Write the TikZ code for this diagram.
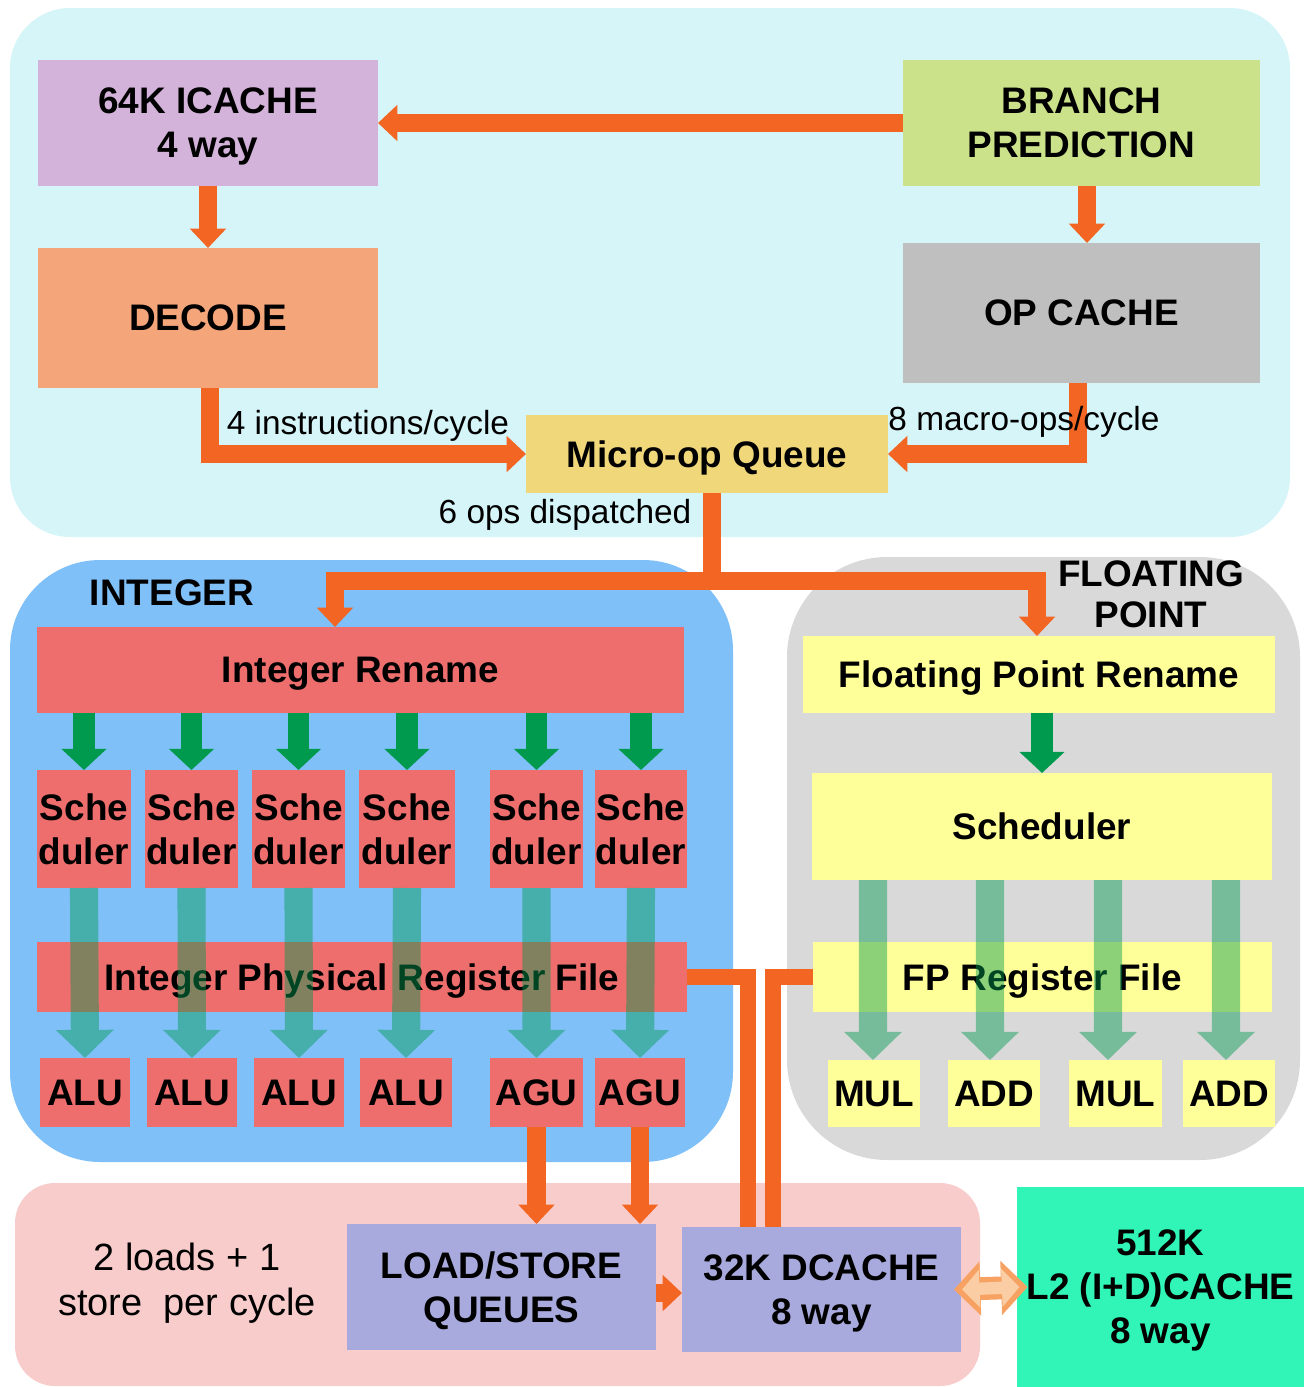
\documentclass[tikz,border=0pt]{standalone}
\usepackage{fontspec}
\setmainfont{Liberation Sans}
\usetikzlibrary{arrows.meta,calc}
\definecolor{cyanbg}{HTML}{D6F5F8}
\definecolor{bluebg}{HTML}{80C0F8}
\definecolor{graybg}{HTML}{D9D9D9}
\definecolor{pinkbg}{HTML}{F9CCCC}
\definecolor{mint}{HTML}{30F5B6}
\definecolor{lilac}{HTML}{D4B3DA}
\definecolor{bpgreen}{HTML}{CCE28A}
\definecolor{salmon}{HTML}{F5A57A}
\definecolor{opgray}{HTML}{BFBFBF}
\definecolor{mqyellow}{HTML}{EFD77A}
\definecolor{boxred}{HTML}{EE6E6E}
\definecolor{yel}{HTML}{FFFF99}
\definecolor{lav}{HTML}{A8AADD}
\definecolor{orng}{HTML}{F26522}
\definecolor{dgreen}{HTML}{009A4E}
\definecolor{dblout}{HTML}{F7A262}
\definecolor{dblin}{HTML}{FBCDA4}
\newcommand\mybox[7]{\node[#6, minimum width={(#4-#2)*0.01cm}, minimum height={(#5-#3)*0.01cm}] (#1) at ({(#2+#4)/2},{(#3+#5)/2}) {#7};}
\begin{document}
\begin{tikzpicture}[x=0.01cm,y=-0.01cm,
  box/.style={inner sep=0pt, outer sep=0pt, align=center, text depth=0pt, font=\bfseries\fontsize{10.5}{12.5}\selectfont},
  lbl/.style={inner sep=0pt, align=center, font=\fontsize{9.5}{12.8}\selectfont},
  oarrow/.style={draw=orng, line width=5.2pt, line join=miter, -{Triangle[width=10pt,length=5.5pt]}},
  oline/.style={draw=orng, line width=5.2pt, line join=miter},
  othin/.style={draw=orng, line width=4.4pt, line join=miter},
  garrow/.style={draw=dgreen, line width=6.2pt, -{Triangle[width=12.5pt,length=6pt]}},
  tarrow/.style={draw=dgreen, line width=8pt, -{Triangle[width=16pt,length=8pt]}},
]
\useasboundingbox (0,0) rectangle (1304,1387);
% regions
\fill[cyanbg, rounded corners=0.6cm] (10,8) rectangle (1290,537);
\fill[bluebg, rounded corners=0.9cm] (10,560) rectangle (733,1162);
\fill[graybg, rounded corners=1cm] (787,557) rectangle (1300,1160);
\fill[pinkbg, rounded corners=0.4cm] (15,1183) rectangle (980,1386);
% boxes
\mybox{ic}{38}{60}{378}{186}{box,fill=lilac}{64K ICACHE\\4 way}
\mybox{bp}{903}{60}{1260}{186}{box,fill=bpgreen}{BRANCH\\PREDICTION}
\mybox{dec}{38}{248}{378}{388}{box,fill=salmon}{DECODE}
\mybox{opc}{903}{243}{1260}{383}{box,fill=opgray}{OP CACHE}
\mybox{mq}{526}{415}{888}{493}{box,fill=mqyellow}{Micro-op Queue}
\mybox{irn}{37}{627}{684}{713}{box,fill=boxred}{Integer Rename}
\mybox{s1}{37}{770}{131}{888}{box,fill=boxred}{Sche\\duler}
\mybox{s2}{145}{770}{238}{888}{box,fill=boxred}{Sche\\duler}
\mybox{s3}{252}{770}{345}{888}{box,fill=boxred}{Sche\\duler}
\mybox{s4}{359}{770}{455}{888}{box,fill=boxred}{Sche\\duler}
\mybox{s5}{490}{770}{583}{888}{box,fill=boxred}{Sche\\duler}
\mybox{s6}{595}{770}{687}{888}{box,fill=boxred}{Sche\\duler}
\mybox{irf}{37}{942}{687}{1012}{box,fill=boxred}{Integer Physical Register File}
\mybox{a1}{40}{1058}{130}{1127}{box,fill=boxred}{ALU}
\mybox{a2}{147}{1058}{237}{1127}{box,fill=boxred}{ALU}
\mybox{a3}{254}{1058}{344}{1127}{box,fill=boxred}{ALU}
\mybox{a4}{360}{1058}{452}{1127}{box,fill=boxred}{ALU}
\mybox{g1}{490}{1058}{583}{1127}{box,fill=boxred}{AGU}
\mybox{g2}{595}{1058}{685}{1127}{box,fill=boxred}{AGU}
\mybox{frn}{803}{636}{1275}{713}{box,fill=yel}{Floating Point Rename}
\mybox{fsc}{812}{773}{1272}{880}{box,fill=yel}{Scheduler}
\mybox{frf}{813}{942}{1272}{1012}{box,fill=yel}{FP Register File}
\mybox{f1}{828}{1060}{920}{1127}{box,fill=yel}{MUL}
\mybox{f2}{948}{1060}{1040}{1127}{box,fill=yel}{ADD}
\mybox{f3}{1069}{1060}{1162}{1127}{box,fill=yel}{MUL}
\mybox{f4}{1183}{1060}{1275}{1127}{box,fill=yel}{ADD}
\mybox{lsq}{347}{1224}{656}{1350}{box,fill=lav}{LOAD/STORE\\QUEUES}
\mybox{dc}{682}{1227}{961}{1352}{box,fill=lav}{32K DCACHE\\8 way}
\mybox{l2}{1017}{1187}{1304}{1387}{box,fill=mint}{512K\\L2 (I+D)CACHE\\8 way}
% helper coordinates
\coordinate (xbp) at (1087,0);
\coordinate (xop) at (1078,0);
\coordinate (xde) at (210,0);
\coordinate (split) at (712,581);
\coordinate (xa) at (335,0);
\coordinate (xb) at (1037,0);
\coordinate (ja) at (748,0);
\coordinate (jb) at (773,0);
\coordinate (ylq) at (0,1293);
\coordinate (t1) at (873,0);
\coordinate (t2) at (990,0);
\coordinate (t3) at (1108,0);
\coordinate (t4) at (1226,0);
% orange connectors
\draw[oarrow] (bp.west) -- (ic.east);
\draw[oarrow] (ic.south) -- (dec.north);
\draw[oarrow] (bp.south -| xbp) -- (opc.north -| xbp);
\draw[oarrow] (dec.south -| xde) |- (mq.west);
\draw[oarrow] (opc.south -| xop) |- (mq.east);
\draw[oline] (mq.south -| split) -- (split);
\draw[oarrow] (split) -| (irn.north -| xa);
\draw[oarrow] (split) -| (frn.north -| xb);
\draw[oarrow] (g1.south) -- (g1.south |- lsq.north);
\draw[oarrow] (g2.south) -- (g2.south |- lsq.north);
\draw[oarrow] (lsq.east |- ylq) -- (dc.west |- ylq);
\draw[othin] (irf.east) -| (dc.north -| ja);
\draw[othin] (frf.west) -| (dc.north -| jb);
% double arrow DCACHE <-> L2
\draw[draw=dblout, line width=6.5pt, {Triangle[width=15pt,length=7.5pt]}-{Triangle[width=15pt,length=7.5pt]}] ([xshift=-2pt]dc.east) -- ([xshift=3pt]l2.west);
\draw[draw=dblin, line width=3.5pt, {Triangle[width=10.5pt,length=5pt]}-{Triangle[width=10.5pt,length=5pt]}] ([xshift=0.3pt]dc.east) -- ([xshift=0.7pt]l2.west);
% green arrows
\foreach \s in {s1,s2,s3,s4,s5,s6}{\draw[garrow] (\s.north |- irn.south) -- (\s.north);}
\draw[garrow] (frn.south -| fsc.north) -- (fsc.north);
% labels
\node[lbl] (lb1) at (368,426) {4 instructions/cycle};
\node[lbl] (lb2) at (1024,422) {8 macro-ops/cycle};
\node[lbl] (lb3) at (565,515) {6 ops dispatched};
\node[lbl, font=\fontsize{10.8}{12.8}\selectfont] (lb4) at (187,1283) {2 loads + 1\\store\ \ per cycle};
\node[box] (tint) at (172,593) {INTEGER};
\node[box, font=\bfseries\fontsize{10.5}{11.7}\selectfont] (tfp) at (1151,594) {FLOATING\\POINT};
% translucent arrows
\begin{scope}[transparency group, opacity=0.45]
\draw[tarrow] (s1.south) -- (a1.north);
\draw[tarrow] (s2.south) -- (a2.north);
\draw[tarrow] (s3.south) -- (a3.north);
\draw[tarrow] (s4.south) -- (a4.north);
\draw[tarrow] (s5.south) -- (g1.north);
\draw[tarrow] (s6.south) -- (g2.north);
\draw[tarrow] (fsc.south -| t1) -- (f1.north -| t1);
\draw[tarrow] (fsc.south -| t2) -- (f2.north -| t2);
\draw[tarrow] (fsc.south -| t3) -- (f3.north -| t3);
\draw[tarrow] (fsc.south -| t4) -- (f4.north -| t4);
\end{scope}
\end{tikzpicture}
\end{document}
